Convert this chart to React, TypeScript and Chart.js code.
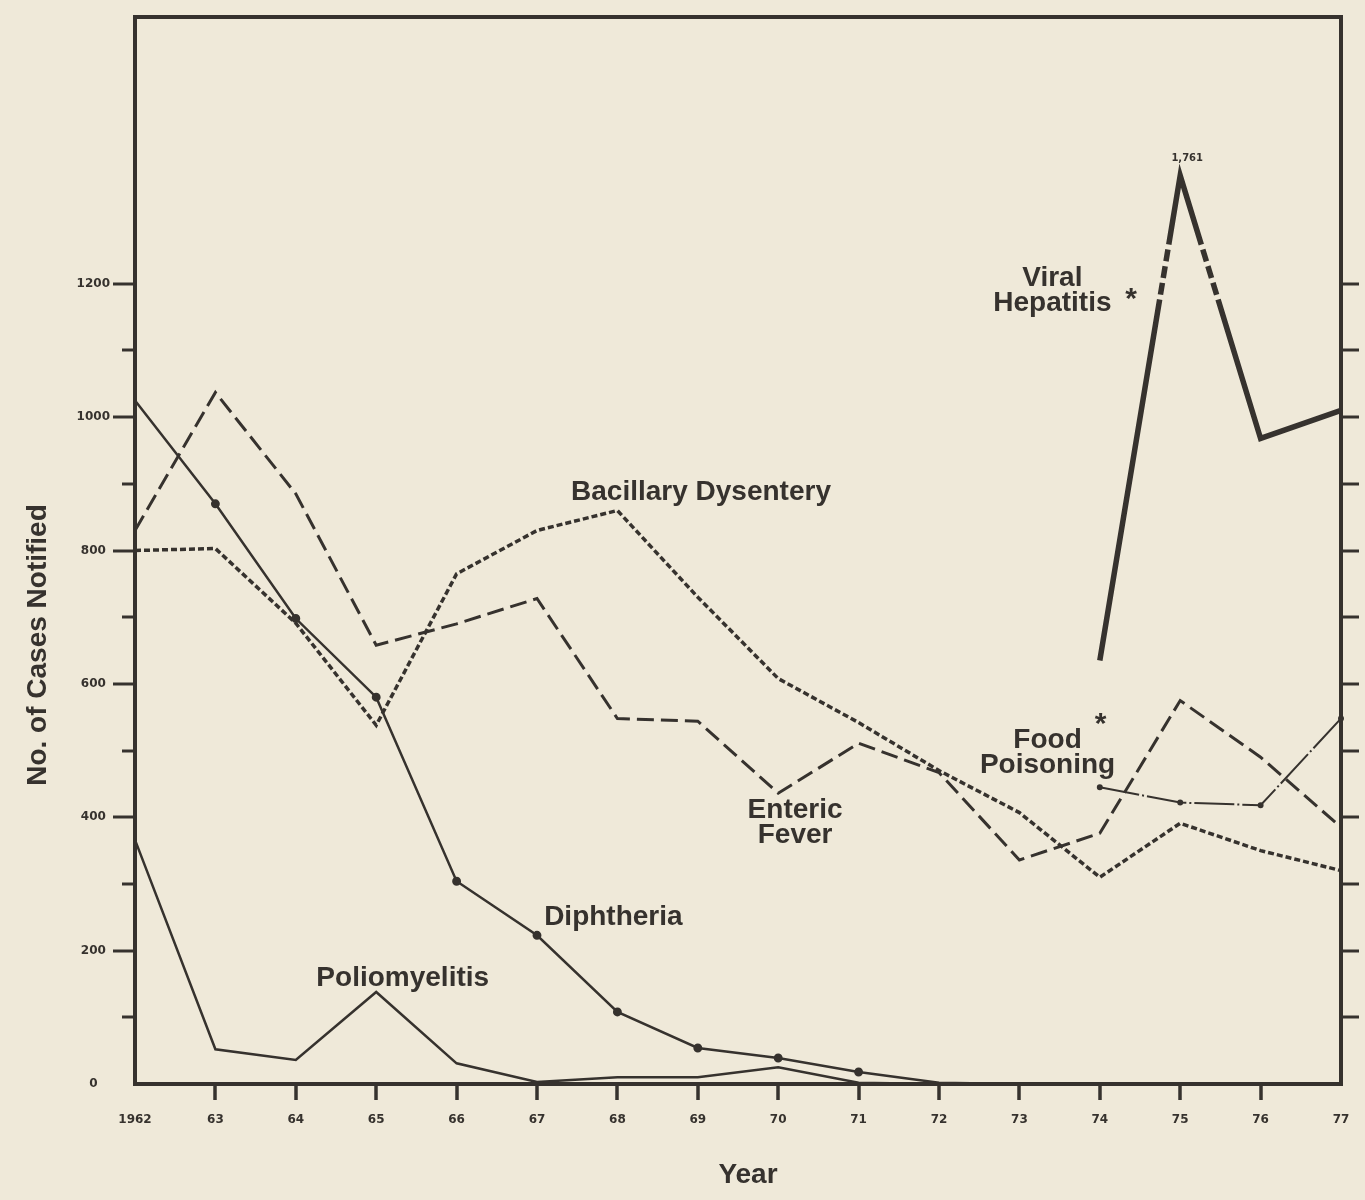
import React, { useEffect, useRef } from 'react';
import { Chart, registerables } from 'chart.js';

Chart.register(...registerables);

// ---------------- data ----------------
const years = ['1962', '63', '64', '65', '66', '67', '68', '69', '70', '71', '72', '73', '74', '75', '76', '77'];

const diphtheria = [1025, 870, 698, 580, 304, 223, 108, 54, 39, 18, 2, 0, 0, null, null, null];
const poliomyelitis = [366, 52, 36, 138, 31, 3, 10, 10, 25, 2, 0, 0, 0, null, null, null];
const entericFever = [830, 1037, 885, 658, 690, 728, 548, 544, 436, 511, 467, 336, 376, 575, 490, 385];
const bacillaryDysentery = [800, 803, 691, 538, 765, 830, 860, 730, 608, 542, 470, 407, 310, 391, 350, 320];
const viralHepatitis = [null, null, null, null, null, null, null, null, null, null, null, null, 635, 1761, 968, 1010];
const foodPoisoning = [null, null, null, null, null, null, null, null, null, null, null, null, 445, 422, 418, 548];

const yMajorTicks = [0, 200, 400, 600, 800, 1000, 1200];
const yMinorTicks = [100, 300, 500, 700, 900, 1100];
const yRightTicks = [100, 200, 300, 400, 500, 600, 700, 800, 900, 1000, 1100, 1200];

// broken axis above this value (values drawn compressed)
const SCALE_BREAK = 1200;
const BREAK_RATIO = 0.289;

// ---------------- styles ----------------
const INK = '#36322e';
const PAPER = '#efe9d9';
const SANS = '"Liberation Sans", Arial, Helvetica, sans-serif';
const TICK_FONT = '"DejaVu Sans", "Liberation Sans", sans-serif';

const plotValue = (v: number | null) =>
  v == null ? null : v > SCALE_BREAK ? SCALE_BREAK + (v - SCALE_BREAK) * BREAK_RATIO : v;

// label anchors in data coordinates (category index, value)
const seriesLabels = [
  { lines: ['Bacillary Dysentery'], x: 7.04, y: 888 },
  { lines: ['Viral', 'Hepatitis'], x: 11.41, y: 1190 },
  { lines: ['Food', 'Poisoning'], x: 11.35, y: 496 },
  { lines: ['Enteric', 'Fever'], x: 8.21, y: 391 },
  { lines: ['Diphtheria'], x: 5.95, y: 250 },
  { lines: ['Poliomyelitis'], x: 3.33, y: 159 },
];
const asteriskMarks = [
  { x: 12.39, y: 1176 },
  { x: 12.01, y: 538 },
];
const breakGapValues = [1180, 1205, 1230, 1255];

const paperPlugin = {
  id: 'paper',
  beforeDraw(chart: any) {
    const { ctx, width, height } = chart;
    ctx.save();
    ctx.fillStyle = PAPER;
    ctx.fillRect(0, 0, width, height);
    ctx.restore();
  },
};

const breakPlugin = {
  id: 'scaleBreak',
  afterDatasetsDraw(chart: any) {
    const meta = chart.getDatasetMeta(4);
    const yScale = chart.scales.y;
    const peak = viralHepatitis.reduce((b: number, v, i) => (v != null && (viralHepatitis[b] == null || v > (viralHepatitis[b] as number)) ? i : b), 0);
    const segs = [[peak - 1, peak], [peak, peak + 1]];
    const { ctx } = chart;
    ctx.save();
    ctx.strokeStyle = PAPER;
    ctx.lineWidth = 9;
    ctx.lineCap = 'butt';
    for (const [a, b] of segs) {
      const p0 = meta.data[a];
      const p1 = meta.data[b];
      if (!p0 || !p1) continue;
      const dx = p1.x - p0.x;
      const dy = p1.y - p0.y;
      const len = Math.hypot(dx, dy);
      const ux = dx / len;
      const uy = dy / len;
      for (const gv of breakGapValues) {
        const py = yScale.getPixelForValue(gv);
        const t = (py - p0.y) / dy;
        if (t <= 0 || t >= 1) continue;
        const px = p0.x + t * dx;
        const L = 5;
        ctx.beginPath();
        ctx.moveTo(px - (ux * L) / 2, py - (uy * L) / 2);
        ctx.lineTo(px + (ux * L) / 2, py + (uy * L) / 2);
        ctx.stroke();
      }
    }
    // peak value label (true value)
    const pt = meta.data[peak];
    if (pt) {
      ctx.fillStyle = INK;
      ctx.font = `bold 10px ${TICK_FONT}`;
      ctx.textAlign = 'center';
      ctx.textBaseline = 'middle';
      ctx.fillText((viralHepatitis[peak] as number).toLocaleString('en-US'), pt.x + 7, pt.y - 17);
    }
    ctx.restore();
  },
};

const labelPlugin = {
  id: 'seriesLabels',
  afterDraw(chart: any) {
    const { ctx, chartArea } = chart;
    const xs = chart.scales.x;
    const ys = chart.scales.y;
    ctx.save();
    ctx.fillStyle = INK;
    ctx.textAlign = 'center';
    ctx.textBaseline = 'middle';
    ctx.font = `bold 28px ${SANS}`;
    const lh = 25;
    for (const l of seriesLabels) {
      const cx = xs.getPixelForValue(l.x);
      const cy = ys.getPixelForValue(l.y);
      const y0 = cy - ((l.lines.length - 1) * lh) / 2;
      l.lines.forEach((s, i) => ctx.fillText(s, cx, y0 + i * lh));
    }
    ctx.font = `bold 30px ${SANS}`;
    for (const a of asteriskMarks) {
      ctx.fillText('*', xs.getPixelForValue(a.x), ys.getPixelForValue(a.y));
    }
    // axis titles
    ctx.font = `bold 28px ${SANS}`;
    ctx.fillText('Year', (chartArea.left + chartArea.right) / 2 + 10, chartArea.bottom + 91);
    ctx.translate(chartArea.left - 97, chartArea.top + 628);
    ctx.rotate(-Math.PI / 2);
    ctx.fillText('No. of Cases Notified', 0, 0);
    ctx.restore();
  },
};

export default function App() {
  const ref = useRef<HTMLCanvasElement>(null);

  useEffect(() => {
    const lineBase = { borderColor: INK, pointBackgroundColor: INK, pointBorderColor: INK, pointRadius: 0, tension: 0, fill: false, spanGaps: false };
    const chart = new Chart(ref.current as HTMLCanvasElement, {
      type: 'line',
      data: {
        labels: years,
        datasets: [
          { ...lineBase, label: 'Diphtheria', data: diphtheria, borderWidth: 2.5, pointRadius: (c: any) => (c.dataIndex >= 1 && c.dataIndex <= 9 ? 3.2 : 0) },
          { ...lineBase, label: 'Poliomyelitis', data: poliomyelitis, borderWidth: 2.5 },
          { ...lineBase, label: 'Enteric Fever', data: entericFever, borderWidth: 3, borderDash: [17, 7] },
          { ...lineBase, label: 'Bacillary Dysentery', data: bacillaryDysentery, borderWidth: 3.5, borderDash: [6, 3] },
          { ...lineBase, label: 'Viral Hepatitis', data: viralHepatitis.map(plotValue), borderWidth: 5.5 },
          { ...lineBase, label: 'Food Poisoning', data: foodPoisoning, borderWidth: 2, borderDash: [40, 3, 2, 3], pointRadius: 2 },
        ] as any,
      },
      options: {
        responsive: false,
        devicePixelRatio: 1,
        animation: false,
        events: [],
        layout: { padding: 0 },
        plugins: { legend: { display: false }, tooltip: { enabled: false }, title: { display: false } },
        scales: {
          x: {
            type: 'category',
            position: 'bottom',
            offset: false,
            grid: {
              display: true,
              drawOnChartArea: false,
              lineWidth: 4,
              tickLength: 16,
              tickWidth: 3.5,
              tickColor: (c: any) => (c.index === 0 || c.index === years.length - 1 ? 'rgba(0,0,0,0)' : INK),
            },
            border: { display: true, color: INK, width: 4 },
            ticks: { color: INK, autoSkip: false, maxRotation: 0, padding: 13, font: { family: TICK_FONT, size: 12, weight: 'bold' } },
            afterFit: (s: any) => { s.height = 116; },
          },
          xTop: {
            type: 'category',
            position: 'top',
            offset: false,
            grid: { display: true, drawOnChartArea: false, drawTicks: false, lineWidth: 4 },
            border: { display: true, color: INK, width: 4 },
            ticks: { display: false },
            afterFit: (s: any) => { s.height = 17; },
          },
          y: {
            type: 'linear',
            position: 'left',
            weight: 1,
            min: 0,
            max: 1600,
            grid: {
              display: true,
              drawOnChartArea: false,
              lineWidth: 4,
              tickLength: 22,
              tickWidth: 3,
              tickColor: (c: any) => (c.tick && c.tick.value === 0 ? 'rgba(0,0,0,0)' : INK),
            },
            border: { display: true, color: INK, width: 4 },
            ticks: {
              color: INK,
              padding: 3,
              crossAlign: 'center',
              font: { family: TICK_FONT, size: 12, weight: 'bold' },
              callback: (v: any) => String(v),
            },
            afterBuildTicks: (s: any) => { s.ticks = yMajorTicks.map((v) => ({ value: v })); },
            afterFit: (s: any) => { s.width = 135; },
          },
          yMinor: {
            type: 'linear',
            position: 'left',
            weight: 0,
            min: 0,
            max: 1600,
            grid: { display: true, drawOnChartArea: false, lineWidth: 4, tickLength: 13, tickWidth: 3, tickColor: INK },
            border: { display: false },
            ticks: { display: false },
            afterBuildTicks: (s: any) => { s.ticks = yMinorTicks.map((v) => ({ value: v })); },
            afterFit: (s: any) => { s.width = 0; },
          },
          yRight: {
            type: 'linear',
            position: 'right',
            min: 0,
            max: 1600,
            grid: { display: true, drawOnChartArea: false, lineWidth: 4, tickLength: 18, tickWidth: 3, tickColor: INK },
            border: { display: true, color: INK, width: 4 },
            ticks: { display: false },
            afterBuildTicks: (s: any) => { s.ticks = yRightTicks.map((v) => ({ value: v })); },
            afterFit: (s: any) => { s.width = 24; },
          },
        },
      } as any,
      plugins: [paperPlugin, breakPlugin, labelPlugin],
    });
    return () => chart.destroy();
  }, []);

  return (
    <div style={{ position: 'absolute', left: 0, top: 0, width: 1365, height: 1200, background: PAPER }}>
      <canvas ref={ref} width={1365} height={1200} style={{ display: 'block', width: 1365, height: 1200 }} />
    </div>
  );
}
